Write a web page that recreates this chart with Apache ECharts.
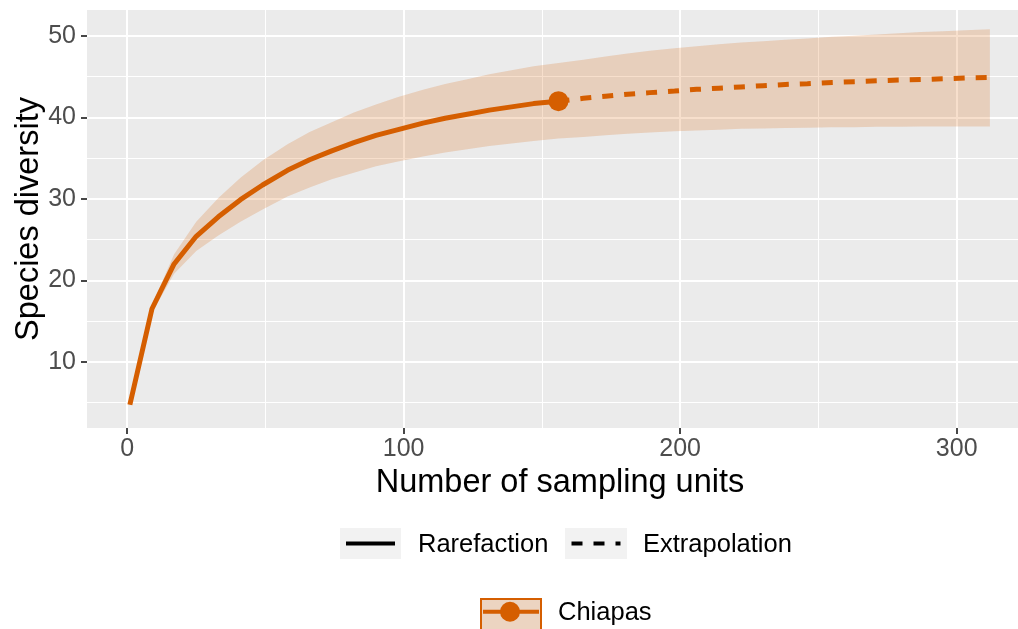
<!DOCTYPE html>
<html>
<head>
<meta charset="utf-8">
<script src="https://cdn.jsdelivr.net/npm/echarts@6/dist/echarts.min.js"></script>
<style>
html,body{margin:0;padding:0;background:#fff;overflow:hidden;width:1018px;height:629px;}
#chart{width:1033px;height:629px;}
</style>
</head>
<body>
<div id="chart"></div>
<script>
// ---- data ----
const rareX  = [1, 9, 17, 25, 33, 41, 49, 58, 66, 74, 82, 90, 98, 107, 115, 123, 131, 139, 147, 156];
const rareY  = [4.7, 16.5, 22.0, 25.4, 27.8, 29.9, 31.7, 33.5, 34.8, 35.9, 36.9, 37.8, 38.5, 39.3, 39.9, 40.4, 40.9, 41.3, 41.7, 42.0];
const rareLo = [4.5, 16.0, 20.8, 23.6, 25.5, 27.2, 28.7, 30.3, 31.4, 32.4, 33.2, 34.0, 34.6, 35.2, 35.7, 36.1, 36.5, 36.8, 37.1, 37.4];
const rareHi = [4.9, 17.0, 23.2, 27.2, 30.1, 32.6, 34.7, 36.7, 38.2, 39.4, 40.6, 41.6, 42.5, 43.4, 44.1, 44.7, 45.3, 45.8, 46.3, 46.7];

const extX  = [156, 165, 173, 181, 189, 198, 206, 214, 222, 230, 238, 246, 255, 263, 271, 279, 287, 295, 303, 312];
const extY  = [42.0, 42.35, 42.6, 42.85, 43.05, 43.25, 43.45, 43.6, 43.75, 43.9, 44.05, 44.15, 44.3, 44.4, 44.5, 44.6, 44.65, 44.75, 44.85, 44.9];
const extLo = [37.4, 37.6, 37.8, 38.0, 38.15, 38.3, 38.4, 38.5, 38.6, 38.65, 38.7, 38.75, 38.8, 38.8, 38.85, 38.85, 38.9, 38.9, 38.9, 38.9];
const extHi = [46.7, 47.1, 47.5, 47.85, 48.2, 48.5, 48.75, 49.0, 49.2, 49.35, 49.55, 49.7, 49.9, 50.05, 50.2, 50.35, 50.5, 50.6, 50.7, 50.85];

const obsX = 156;
const obsY = 42.0;

const xTicks = [0, 100, 200, 300];
const yTicks = [10, 20, 30, 40, 50];

const siteName = 'Chiapas';
const xTitle = 'Number of sampling units';
const yTitle = 'Species diversity';
const legendNames = ['Rarefaction', 'Extrapolation'];

// ---- build ----
const ORANGE = '#D55E00';
const FONT = '"Liberation Sans", Arial, Helvetica, sans-serif';

const bandX = rareX.concat(extX.slice(1));
const bandHi = rareHi.concat(extHi.slice(1));
const bandLo = rareLo.concat(extLo.slice(1));

const chart = echarts.init(document.getElementById('chart'), null, {renderer: 'canvas'});

const option = {
  animation: false,
  backgroundColor: '#ffffff',
  grid: {
    left: 87, top: 10, right: 0, bottom: 201,
    outerBoundsMode: 'none',
    containLabel: false,
    show: true, backgroundColor: '#EBEBEB', borderWidth: 0
  },
  xAxis: {
    type: 'value',
    min: -14.5, max: 327.6,
    splitNumber: 3,
    axisLine: {show: false, onZero: false},
    axisTick: {show: true, length: 6, customValues: xTicks, lineStyle: {color: '#333333', width: 1.8}},
    axisLabel: {show: true, customValues: xTicks, margin: 9, color: '#4D4D4D', fontSize: 25, fontFamily: FONT},
    splitLine: {show: true, lineStyle: {color: '#ffffff', width: 2}},
    minorTick: {show: false, splitNumber: 2},
    minorSplitLine: {show: true, lineStyle: {color: '#ffffff', width: 1}},
    name: xTitle,
    nameLocation: 'middle',
    nameGap: 39,
    nameMoveOverlap: false,
    nameTextStyle: {color: '#000000', fontSize: 32.5, fontFamily: FONT}
  },
  yAxis: {
    type: 'value',
    min: 1.85, max: 53.2,
    splitNumber: 5,
    axisLine: {show: false, onZero: false},
    axisTick: {show: true, length: 6, customValues: yTicks, lineStyle: {color: '#333333', width: 1.8}},
    axisLabel: {show: true, customValues: yTicks, margin: 11, color: '#4D4D4D', fontSize: 25, fontFamily: FONT},
    splitLine: {show: true, lineStyle: {color: '#ffffff', width: 2}},
    minorTick: {show: false, splitNumber: 2},
    minorSplitLine: {show: true, lineStyle: {color: '#ffffff', width: 1}},
    name: yTitle,
    nameLocation: 'middle',
    nameRotate: 90,
    nameGap: 41,
    nameMoveOverlap: false,
    nameTextStyle: {color: '#000000', fontSize: 32.5, fontFamily: FONT}
  },
  series: [
    {
      name: 'band',
      type: 'custom',
      z: 1,
      silent: true,
      data: [[obsX, obsY]],
      renderItem: function (params, api) {
        const pts = [];
        for (let i = 0; i < bandX.length; i++) pts.push(api.coord([bandX[i], bandHi[i]]));
        for (let i = bandX.length - 1; i >= 0; i--) pts.push(api.coord([bandX[i], bandLo[i]]));
        return {
          type: 'polygon',
          shape: {points: pts},
          style: {fill: 'rgba(213,94,0,0.2)', stroke: null}
        };
      }
    },
    {
      name: legendNames[0],
      type: 'line',
      z: 3,
      data: rareX.map((x, i) => [x, rareY[i]]),
      showSymbol: false,
      symbol: 'none',
      lineStyle: {color: ORANGE, width: 5, cap: 'butt', join: 'round'}
    },
    {
      name: legendNames[1],
      type: 'line',
      z: 3,
      data: extX.map((x, i) => [x, extY[i]]),
      showSymbol: false,
      symbol: 'none',
      lineStyle: {color: ORANGE, width: 5, type: [11, 11], cap: 'butt'}
    },
    {
      name: siteName,
      type: 'scatter',
      z: 4,
      data: [[obsX, obsY]],
      symbol: 'circle',
      symbolSize: 20,
      itemStyle: {color: ORANGE, opacity: 1}
    }
  ],
  graphic: [
    // Linetype legend
    {type: 'rect', shape: {x: 340, y: 528, width: 61, height: 31}, style: {fill: '#F2F2F2'}, silent: true},
    {type: 'line', shape: {x1: 346, y1: 543.5, x2: 395, y2: 543.5}, style: {stroke: '#000000', lineWidth: 4}, silent: true},
    {type: 'text', x: 418, y: 545, style: {text: legendNames[0], fill: '#000000', font: '25.5px ' + FONT, textVerticalAlign: 'middle', verticalAlign: 'middle'}, silent: true},
    {type: 'rect', shape: {x: 565, y: 528, width: 62, height: 31}, style: {fill: '#F2F2F2'}, silent: true},
    {type: 'line', shape: {x1: 571.5, y1: 543.5, x2: 620.5, y2: 543.5}, style: {stroke: '#000000', lineWidth: 4, lineDash: [11, 11]}, silent: true},
    {type: 'text', x: 643, y: 545, style: {text: legendNames[1], fill: '#000000', font: '25.5px ' + FONT, textVerticalAlign: 'middle', verticalAlign: 'middle'}, silent: true},
    // Site legend
    {type: 'rect', shape: {x: 481, y: 599, width: 60, height: 36}, style: {fill: '#F2F2F2'}, silent: true},
    {type: 'rect', shape: {x: 481, y: 599, width: 60, height: 36}, style: {fill: 'rgba(213,94,0,0.2)', stroke: ORANGE, lineWidth: 2}, silent: true},
    {type: 'line', shape: {x1: 483, y1: 611.7, x2: 539, y2: 611.7}, style: {stroke: ORANGE, lineWidth: 4}, silent: true},
    {type: 'circle', shape: {cx: 510, cy: 611.7, r: 10}, style: {fill: ORANGE}, silent: true},
    {type: 'text', x: 558, y: 613, style: {text: siteName, fill: '#000000', font: '25.5px ' + FONT, textVerticalAlign: 'middle', verticalAlign: 'middle'}, silent: true}
  ]
};

chart.setOption(option);
</script>
</body>
</html>
